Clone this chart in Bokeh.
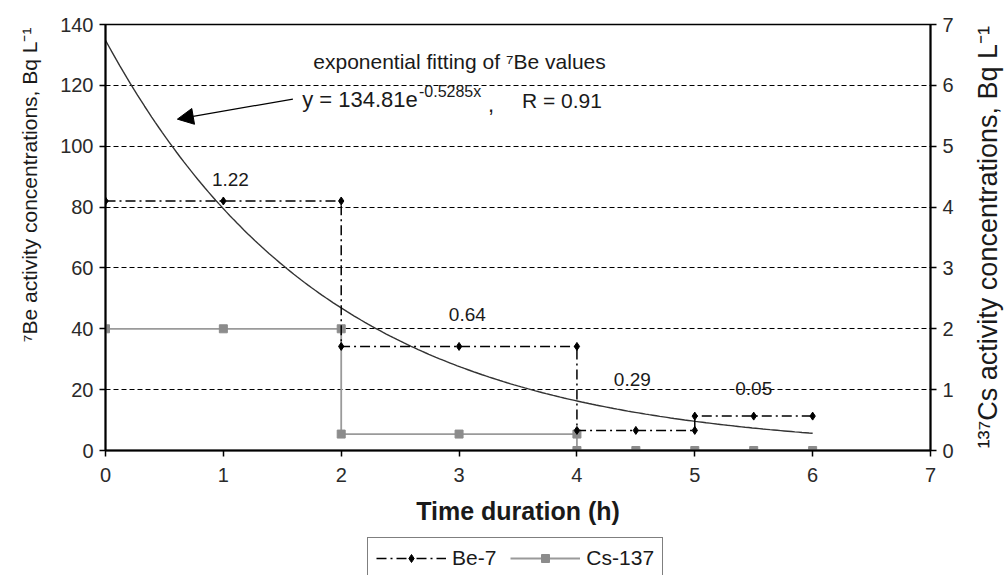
import numpy as np
from bokeh.plotting import figure
from bokeh.layouts import column, row
from bokeh.models import (LinearAxis, Range1d, Label, Arrow, NormalHead, Legend,
                          LegendItem, FixedTicker, ColumnDataSource)
from bokeh.core.properties import value
from bokeh.embed import file_html
from bokeh.resources import INLINE

# Be-7 activity per sampling interval (left axis, Bq/L), drawn as steps
be_time = [0, 1, 2, 2, 3, 4, 4, 4.5, 5, 5, 5.5, 6]
be_conc = [82.0, 82.0, 82.0, 34.2, 34.2, 34.2, 6.6, 6.6, 6.6, 11.3, 11.3, 11.3]

# Cs-137 activity per sampling interval (right axis, Bq/L)
cs_time = [0, 1, 2, 2, 3, 4, 4, 4.5, 5, 5.5, 6]
cs_conc = [2.0, 2.0, 2.0, 0.27, 0.27, 0.27, 0.0, 0.0, 0.0, 0.0, 0.0]

# exponential fit of the Be-7 values: y = a * exp(b * x)
fit_a = 134.81
fit_b = -0.5285
fit_r = 0.91
fit_x_max = 6

# interval annotations
interval_text = ["1.22", "0.64", "0.29", "0.05"]
interval_x = [1.06, 3.07, 4.47, 5.50]
interval_y = [88.9, 44.7, 23.4, 20.4]

x_ticks = [0, 1, 2, 3, 4, 5, 6, 7]
left_ticks = [0, 20, 40, 60, 80, 100, 120, 140]
right_ticks = [0, 1, 2, 3, 4, 5, 6, 7]

left_title = "\u2077Be activity concentrations, Bq L\u207b\u00b9"
right_title = "\u00b9\u00b3\u2077Cs activity concentrations, Bq L\u207b\u00b9"

FONT = "Liberation Sans"
INK = "#1a1a1a"

BE_STYLE = dict(line_color="black", line_width=1.5, line_dash="10 4 2 4")
BE_MARK = dict(marker="diamond", size=8, fill_color="black", line_color="black")
CS_STYLE = dict(line_color="#9a9a9a", line_width=1.8)
CS_MARK = dict(marker="square", size=8, fill_color="#8c8c8c", line_color="#8c8c8c")

LEFT_W, RIGHT_W = 50, 40
p = figure(width=1004 - LEFT_W - RIGHT_W, height=537,
           x_range=Range1d(0, 7), y_range=Range1d(0, 140),
           output_backend="svg", toolbar_location=None,
           min_border_left=105 - LEFT_W, min_border_right=74 - RIGHT_W,
           min_border_top=24, min_border_bottom=87)
p.extra_y_ranges = {"cs": Range1d(0, 7)}
p.outline_line_color = "black"
p.outline_line_width = 1.5
p.background_fill_color = "white"

# horizontal dashed grid only
p.xgrid.visible = False
p.ygrid.ticker = FixedTicker(ticks=left_ticks)
p.ygrid.grid_line_color = "black"
p.ygrid.grid_line_dash = "5 3"
p.ygrid.grid_line_width = 1

def style_axis(ax, ticks):
    ax.ticker = FixedTicker(ticks=ticks)
    ax.axis_line_color = "black"
    ax.axis_line_width = 2
    ax.major_tick_line_color = "black"
    ax.major_tick_line_width = 1.5
    ax.major_tick_in = 0
    ax.major_tick_out = 6
    ax.minor_tick_line_color = None
    ax.major_label_text_font = FONT
    ax.major_label_text_font_size = "20px"
    ax.major_label_text_color = "#2a2a2a"

style_axis(p.xaxis[0], x_ticks)
p.xaxis[0].major_label_standoff = 11
p.xaxis[0].axis_label = "Time duration (h)"
p.xaxis[0].axis_label_text_font = FONT
p.xaxis[0].axis_label_text_font_size = "25px"
p.xaxis[0].axis_label_text_font_style = "bold"
p.xaxis[0].axis_label_text_color = INK
p.xaxis[0].axis_label_standoff = 12

style_axis(p.yaxis[0], left_ticks)
p.yaxis[0].major_label_standoff = 6

right_axis = LinearAxis(y_range_name="cs")
style_axis(right_axis, right_ticks)
right_axis.major_label_standoff = 6
p.add_layout(right_axis, "right")

# fitted curve
fit_x = np.linspace(0, fit_x_max, 200)
fit_y = fit_a * np.exp(fit_b * fit_x)
p.line(fit_x, fit_y, line_color="#333333", line_width=1.4)

# Cs-137 series
cs_src = ColumnDataSource(dict(t=cs_time, c=cs_conc))
p.line("t", "c", source=cs_src, y_range_name="cs", **CS_STYLE)
p.scatter("t", "c", source=cs_src, y_range_name="cs", **CS_MARK)

# Be-7 series
be_src = ColumnDataSource(dict(t=be_time, c=be_conc))
p.line("t", "c", source=be_src, **BE_STYLE)
p.scatter("t", "c", source=be_src, **BE_MARK)

# interval values
p.text(interval_x, interval_y, text=interval_text, text_font=value(FONT),
       text_font_size="19px", text_color=INK, text_align="center",
       text_baseline="middle")

# fit annotation
arrow_from = (1.59, 115.5)
arrow_to = (0.61, 108.9)
p.add_layout(Arrow(end=NormalHead(size=16, fill_color="black", line_color="black"),
                   x_start=arrow_from[0], y_start=arrow_from[1],
                   x_end=arrow_to[0], y_end=arrow_to[1],
                   line_color="black", line_width=1.3))

def note(fig, x, y, text, size, **kw):
    fig.add_layout(Label(x=x, y=y, text=text, text_font=FONT, text_font_size=size,
                         text_color=INK, **kw))

note(p, 1.763, 123.9, "exponential fitting of \u2077Be values", "21px")
note(p, 1.669, 111.4, "y = %.2fe" % fit_a, "22px")
note(p, 2.66, 115.2, "%.4fx" % fit_b, "16px")
note(p, 3.246, 111.4, ",", "22px")
note(p, 3.534, 111.4, "R = %.2f" % fit_r, "21px")

# narrow side strips carrying the vertical axis titles
def side_strip(w):
    s = figure(width=w, height=575, x_range=Range1d(0, w), y_range=Range1d(0, 140),
               output_backend="svg", toolbar_location=None, min_border_left=0,
               min_border_right=0, min_border_top=24, min_border_bottom=125)
    s.axis.visible = False
    s.grid.visible = False
    s.outline_line_color = None
    return s

ls = side_strip(LEFT_W)
note(ls, 29, 87.3, left_title, "21px", angle=np.pi / 2, text_align="center",
     text_baseline="middle")
rs = side_strip(RIGHT_W)
note(rs, 23, 70.1, right_title, "27px", angle=np.pi / 2, text_align="center",
     text_baseline="middle")

# legend strip under the chart
leg = figure(width=1004 - LEFT_W - RIGHT_W, height=38, x_range=Range1d(0, 1),
             y_range=Range1d(0, 1), output_backend="svg", toolbar_location=None,
             min_border=0)
leg.axis.visible = False
leg.grid.visible = False
leg.outline_line_color = None
off = [-10]
be_l = leg.line(off, off, **BE_STYLE)
be_m = leg.scatter(off, off, **BE_MARK)
cs_l = leg.line(off, off, **CS_STYLE)
cs_m = leg.scatter(off, off, **CS_MARK)
legend = Legend(items=[LegendItem(label="Be-7", renderers=[be_l, be_m]),
                       LegendItem(label="Cs-137", renderers=[cs_l, cs_m])],
                orientation="horizontal", location=(262, -4),
                border_line_color="black", border_line_width=1.5,
                label_text_font=FONT, label_text_font_size="21px",
                label_text_color=INK, glyph_width=70, glyph_height=20,
                label_standoff=6, spacing=14, padding=8, margin=0)
leg.add_layout(legend)

layout = row(ls, column(p, leg, spacing=0), rs, spacing=0)
open("out.html", "w").write(file_html(layout, INLINE))
